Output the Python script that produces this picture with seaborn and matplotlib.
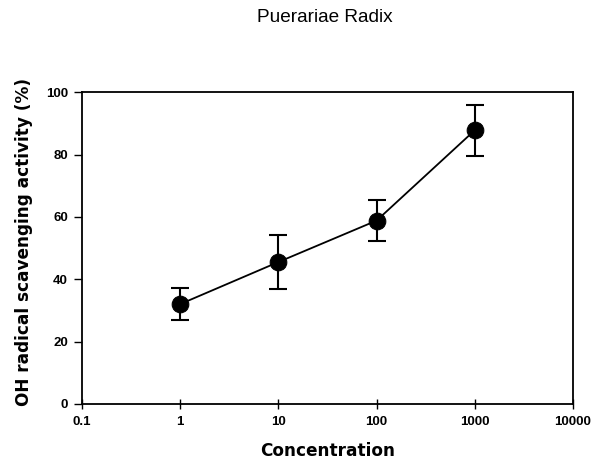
import numpy as np
import matplotlib
matplotlib.use("Agg")
import matplotlib.pyplot as plt
import seaborn as sns
import pandas as pd

# data
concentration = [1, 10, 100, 1000]
activity = [32.0, 45.5, 58.8, 87.8]
err = [5.2, 8.7, 6.5, 8.2]
xticks = [0.1, 1, 10, 100, 1000, 10000]
xticklabels = ["0.1", "1", "10", "100", "1000", "10000"]
yticks = [0, 20, 40, 60, 80, 100]

df = pd.DataFrame({"Concentration": concentration, "activity": activity, "err": err})

sns.set_style("ticks")
plt.rcParams["font.family"] = ["Liberation Sans", "DejaVu Sans"]
plt.rcParams["text.color"] = "black"
plt.rcParams["axes.labelcolor"] = "black"
plt.rcParams["xtick.color"] = "black"
plt.rcParams["ytick.color"] = "black"

fig = plt.figure(figsize=(6.01, 4.61), dpi=100)
ax = fig.add_axes([0.1364, 0.124, 0.817, 0.676])

ax.errorbar(df["Concentration"], df["activity"], yerr=df["err"], fmt="none",
            ecolor="black", elinewidth=1.5, capsize=6.8, capthick=1.5, zorder=2)
sns.lineplot(data=df, x="Concentration", y="activity", ax=ax, color="black",
             linewidth=1.3, marker="o", markersize=12, markerfacecolor="black",
             markeredgecolor="black", zorder=3)

ax.set_xscale("log")
ax.set_xlim(0.1, 10000)
ax.set_ylim(0, 100)
ax.set_xticks(xticks)
ax.set_xticklabels(xticklabels)
ax.minorticks_off()
ax.set_yticks(yticks)

for s in ax.spines.values():
    s.set_visible(True)
    s.set_color("black")
    s.set_linewidth(1.3)

ax.tick_params(axis="x", direction="inout", length=7, width=1, labelsize=9.5, pad=5)
ax.tick_params(axis="y", direction="out", length=6, width=1, labelsize=9.5, pad=4)
for lab in ax.get_xticklabels() + ax.get_yticklabels():
    lab.set_fontweight("bold")

ax.set_xlabel("Concentration", fontsize=12.2, fontweight="bold",
              family="DejaVu Sans", va="center")
ax.xaxis.set_label_coords(0.5, -0.15)
ax.set_ylabel("OH radical scavenging activity (%)", fontsize=12.2, fontweight="bold",
              family="DejaVu Sans", va="center")
ax.yaxis.set_label_coords(-0.118, 0.52)

fig.text(0.541, 0.963, "Puerariae Radix", ha="center", va="center", fontsize=13.7)

fig.savefig("out.png", dpi=100)
